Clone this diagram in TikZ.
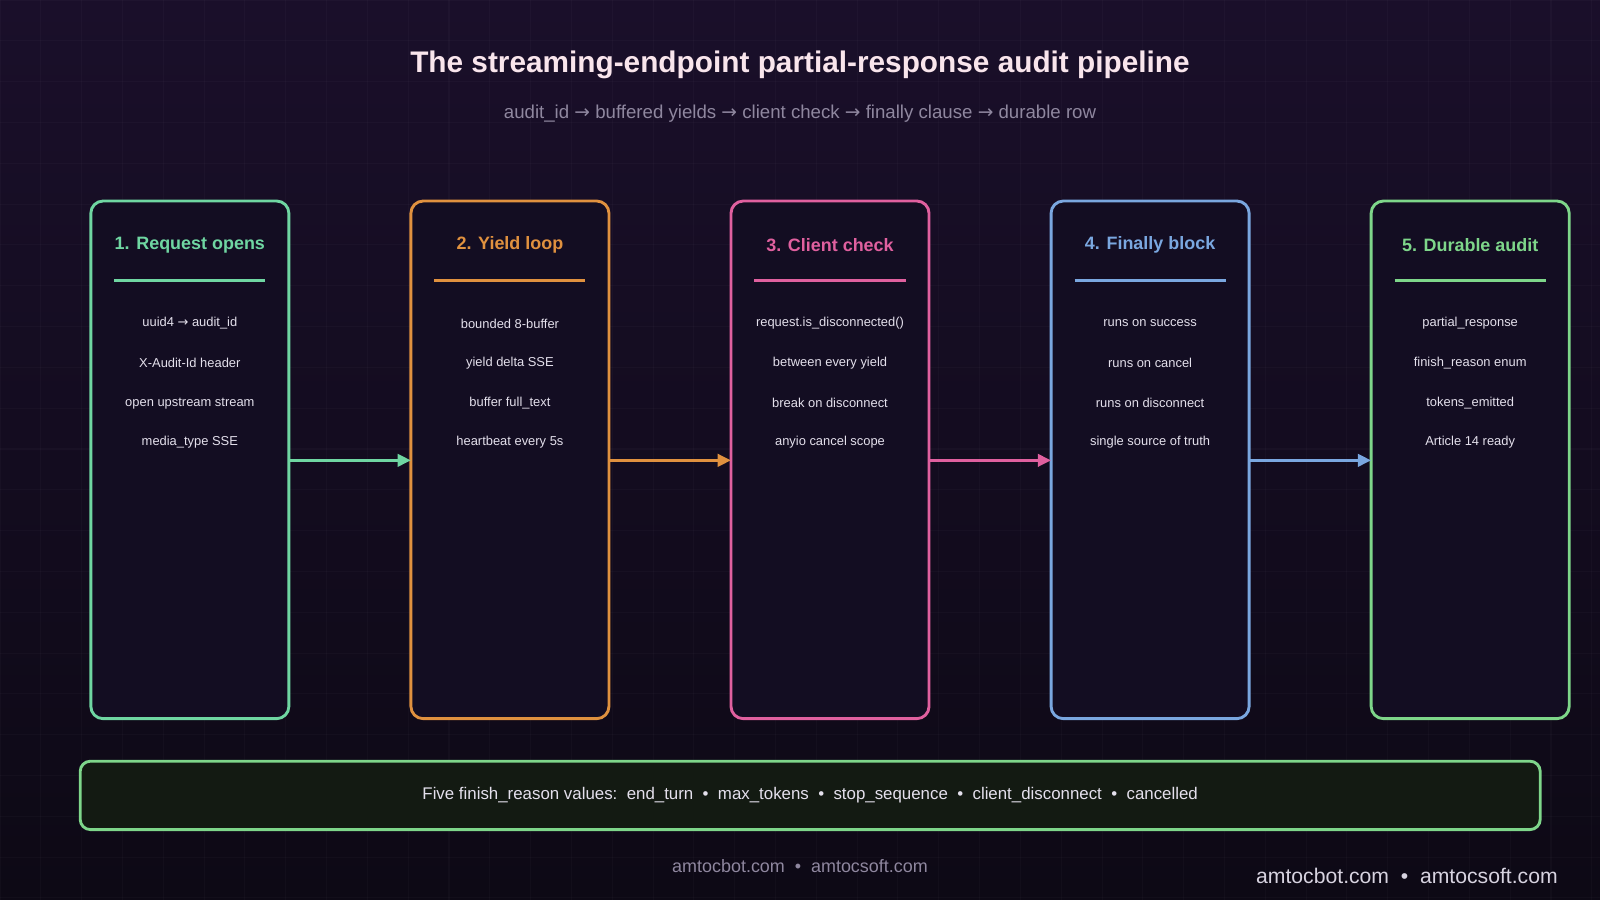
\documentclass[tikz,border=0pt]{standalone}
\usepackage{fontspec}
\setmainfont{Liberation Sans}
\newfontfamily\symfont{DejaVu Sans}
\usetikzlibrary{positioning, arrows.meta}
\definecolor{bgtop}{HTML}{1A0F2A}
\definecolor{bgbot}{HTML}{0D0915}
\definecolor{boxfill}{HTML}{130D22}
\definecolor{cgreen}{HTML}{6FD6A2}
\definecolor{corange}{HTML}{E0913F}
\definecolor{cpink}{HTML}{E0609F}
\definecolor{cblue}{HTML}{7AA7E0}
\definecolor{cgreenb}{HTML}{7ED68A}
\definecolor{itemtext}{HTML}{E4E0EC}
\definecolor{subtext}{HTML}{8F879F}
\tikzset {
    x=0.01cm, y=-0.01cm,
    node distance=1.195cm,
    stage/.style={draw=#1, line width=0.8pt, rounded corners=0.12cm, fill=boxfill,
        minimum width=1.94cm, minimum height=5.07cm, anchor=north west, outer sep=0pt},
    stagetitle/.style={text=#1, font=\bfseries\fontsize{5}{6}\selectfont},
    item/.style={text=itemtext, font=\fontsize{3.6}{4.5}\selectfont},
    flow/.style={draw=#1, line width=0.9pt, -{Triangle[length=0.13cm, width=0.12cm]}}
}
\newcommand{\arr}{{\symfont →}}
\begin{document}
\begin{tikzpicture}
\shade[top color=bgtop, bottom color=bgbot] (0,0) rectangle (1568,882);
\useasboundingbox (0,0) rectangle (1568,882);
\foreach \gx in {0,40,...,1560} \draw[white, opacity=0.025, line width=0.3pt] (\gx,0) -- (\gx,882);
\foreach \gy in {0,40,...,880} \draw[white, opacity=0.025, line width=0.3pt] (0,\gy) -- (1568,\gy);

\node[text=white!90!purple, font=\bfseries\fontsize{8.3}{10}\selectfont] (title) at (784,64) {The streaming-endpoint partial-response audit pipeline};
\node[text=subtext, font=\fontsize{5.2}{6}\selectfont] (subtitle) at (784,111) {audit\_id \arr{} buffered yields \arr{} client check \arr{} finally clause \arr{} durable row};

% stages
\node[stage=cgreen] (s1) at (89,197) {};
\node[stage=corange, right=of s1.north east, anchor=north west] (s2) {};
\node[stage=cpink, right=of s2.north east, anchor=north west] (s3) {};
\node[stage=cblue, right=of s3.north east, anchor=north west] (s4) {};
\node[stage=cgreenb, right=of s4.north east, anchor=north west] (s5) {};

\foreach \s/\c/\t/\a/\b/\cc/\d in {
    s1/cgreen/{1. Request opens}/{uuid4 \arr{} audit\_id}/{X-Audit-Id header}/{open upstream stream}/{media\_type SSE},
    s2/corange/{2. Yield loop}/{bounded 8-buffer}/{yield delta SSE}/{buffer full\_text}/{heartbeat every 5s},
    s3/cpink/{3. Client check}/{request.is\_disconnected()}/{between every yield}/{break on disconnect}/{anyio cancel scope},
    s4/cblue/{4. Finally block}/{runs on success}/{runs on cancel}/{runs on disconnect}/{single source of truth},
    s5/cgreenb/{5. Durable audit}/{partial\_response}/{finish\_reason enum}/{tokens\_emitted}/{Article 14 ready}} {
  \node[stagetitle=\c] (\s t) at ([yshift=-0.43cm]\s.north) {\t};
  \draw[\c, line width=0.7pt] ([xshift=-0.74cm, yshift=-0.78cm]\s.north) -- ([xshift=0.74cm, yshift=-0.78cm]\s.north);
  \node[item] (\s a) at ([yshift=-1.2cm]\s.north) {\a};
  \node[item] (\s b) at ([yshift=-1.59cm]\s.north) {\b};
  \node[item] (\s c) at ([yshift=-1.98cm]\s.north) {\cc};
  \node[item] (\s d) at ([yshift=-2.36cm]\s.north) {\d};
}

\draw[flow=cgreen] ([yshift=-2.54cm]s1.north east) -- ([yshift=-2.54cm]s2.north west);
\draw[flow=corange] ([yshift=-2.54cm]s2.north east) -- ([yshift=-2.54cm]s3.north west);
\draw[flow=cpink] ([yshift=-2.54cm]s3.north east) -- ([yshift=-2.54cm]s4.north west);
\draw[flow=cblue] ([yshift=-2.54cm]s4.north east) -- ([yshift=-2.54cm]s5.north west);

% finish reasons
\node[draw=cgreenb, line width=0.8pt, rounded corners=0.1cm, fill={rgb,255:red,19;green,26;blue,18},
    minimum width=14.3cm, minimum height=0.67cm, text=itemtext, font=\fontsize{4.7}{6}\selectfont]
    (reasons) at (794,779.5) {Five finish\_reason values:\ \ end\_turn \ \textbullet\ \ max\_tokens \ \textbullet\ \ stop\_sequence \ \textbullet\ \ client\_disconnect \ \textbullet\ \ cancelled};

\node[text=subtext, font=\fontsize{5}{6}\selectfont] (footer) at (784,849) {amtocbot.com \ \textbullet\ \ amtocsoft.com};
\node[text=itemtext!85!subtext, font=\fontsize{5.9}{7}\selectfont, anchor=east] (brand) at (1539,858) {amtocbot.com \ \textbullet\ \ amtocsoft.com};
\end{tikzpicture}
\end{document}
